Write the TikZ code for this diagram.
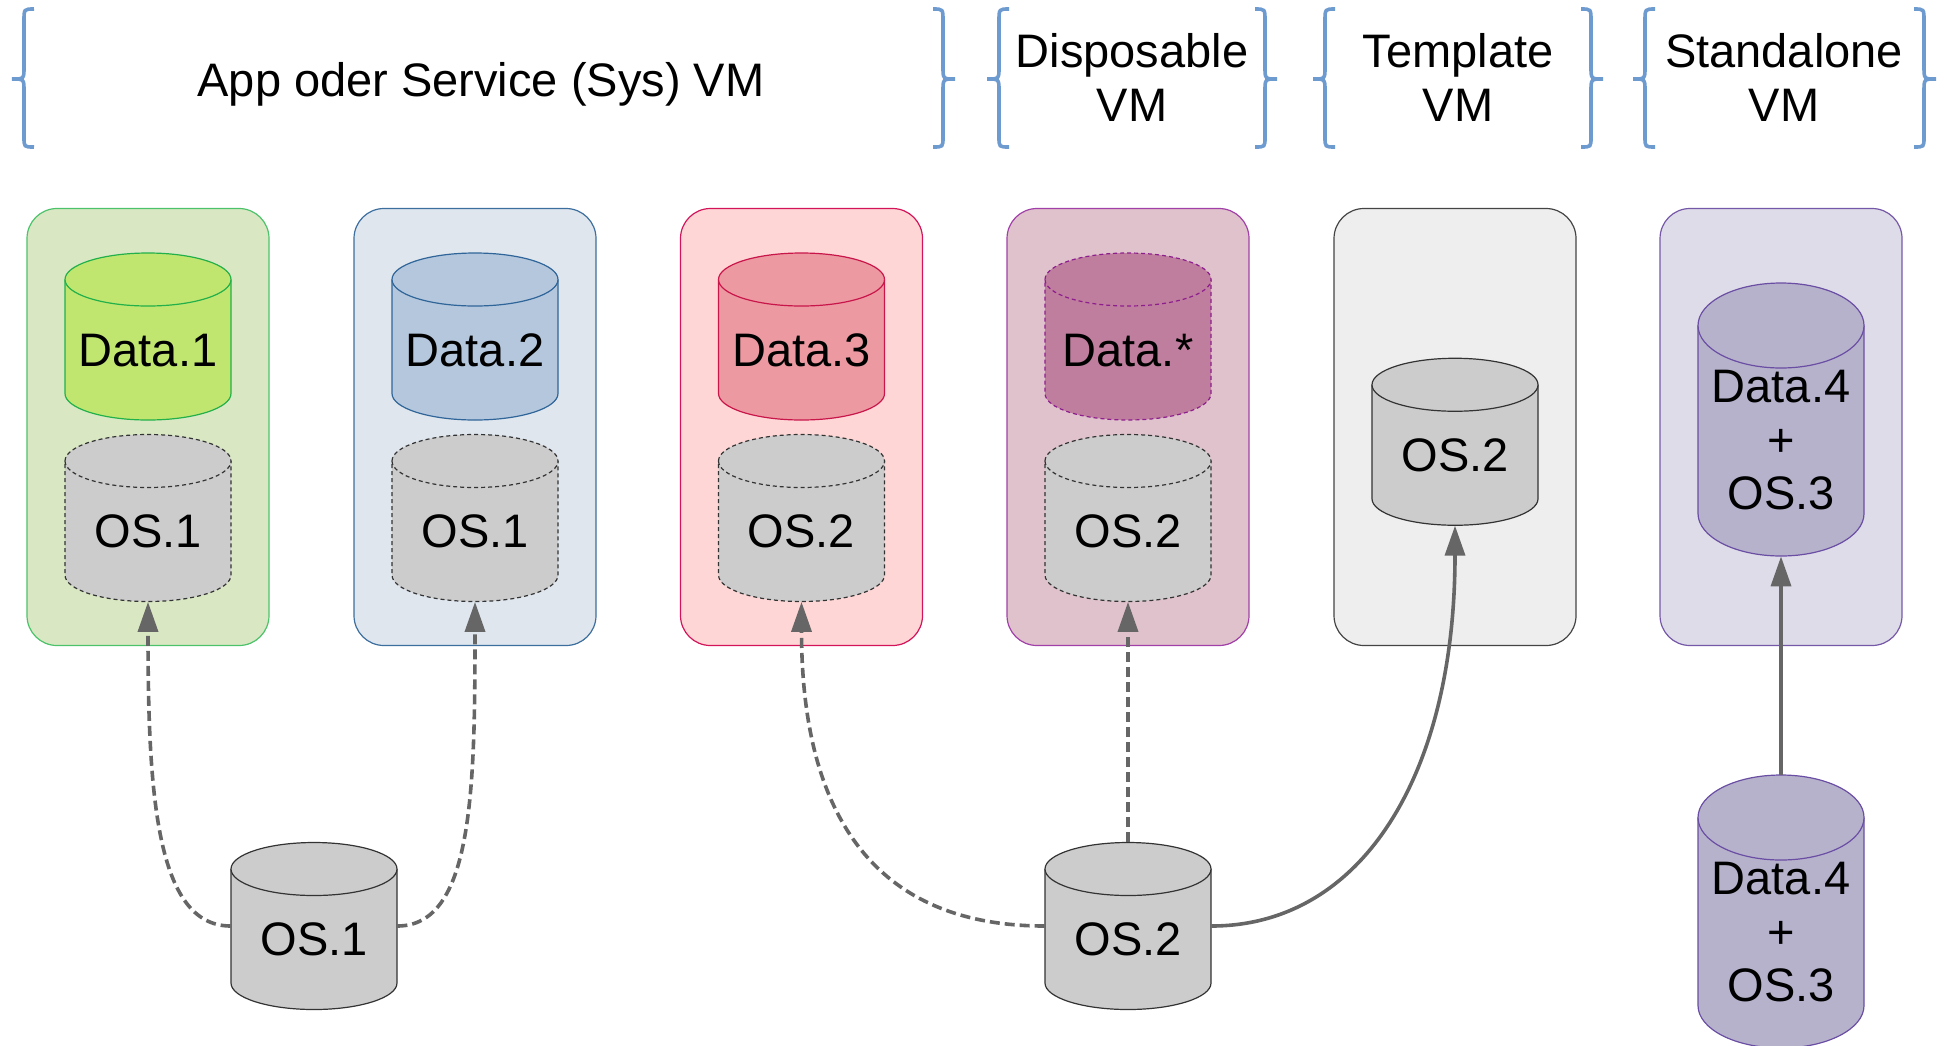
\documentclass[tikz,border=0pt]{standalone}
\usepackage{fontspec}
\setmainfont{Liberation Sans}
\usetikzlibrary{arrows.meta}

\definecolor{bracecol}{HTML}{6D9ACF}
\definecolor{linkgray}{HTML}{666666}
\definecolor{osfill}{HTML}{CCCCCC}
\definecolor{osline}{HTML}{333333}
\definecolor{vm1fill}{HTML}{D9E8C3}
\definecolor{vm1line}{HTML}{4CC26A}
\definecolor{vm2fill}{HTML}{DFE6EE}
\definecolor{vm2line}{HTML}{3C6E9E}
\definecolor{vm3fill}{HTML}{FFD6D6}
\definecolor{vm3line}{HTML}{D3145A}
\definecolor{vm4fill}{HTML}{E0C2CC}
\definecolor{vm4line}{HTML}{A140A8}
\definecolor{vm5fill}{HTML}{EEEEEE}
\definecolor{vm5line}{HTML}{444444}
\definecolor{vm6fill}{HTML}{DEDCE8}
\definecolor{vm6line}{HTML}{7658A8}
\definecolor{d1fill}{HTML}{C0E670}
\definecolor{d1line}{HTML}{22B04A}
\definecolor{d2fill}{HTML}{B4C7DD}
\definecolor{d2line}{HTML}{2F6598}
\definecolor{d3fill}{HTML}{EC99A2}
\definecolor{d3line}{HTML}{C8164A}
\definecolor{dxfill}{HTML}{C07E9E}
\definecolor{dxline}{HTML}{8C1E8E}
\definecolor{d4fill}{HTML}{B7B2CC}
\definecolor{d4line}{HTML}{6A4EA4}

% drum: name, x, y, height, cap radius, look, lift, text
\newcommand\drum[8]{%
  \filldraw[#6] (#2-83,#3+#4/2-#5)
    arc[start angle=180, end angle=0, x radius=83, y radius=#5]
    -- (#2+83,#3-#4/2+#5)
    arc[start angle=0, end angle=-180, x radius=83, y radius=#5] -- cycle;
  \draw[#6] (#2-83,#3+#4/2-#5)
    arc[start angle=180, end angle=360, x radius=83, y radius=#5];
  \node[drumtext, minimum height=#4*0.5pt] (#1) at (#2,#3) {\rule{0pt}{#7}#8};
}

\begin{document}
\begin{tikzpicture}[x=0.5pt, y=0.5pt,
    vmbox/.style={draw, rounded corners=15pt, line width=0.6pt,
      minimum width=121pt, minimum height=218.5pt},
    head/.style={font=\fontsize{23.5}{26.6}\selectfont, align=center, inner sep=0pt},
    brace/.style={draw=bracecol, line width=1.8pt},
    drumtext/.style={inner sep=0pt, minimum width=83pt, align=center,
      font=\fontsize{23.5}{26.6}\selectfont},
    osdisk/.style={fill=osfill, draw=osline, line width=0.6pt},
    rimdash/.style={dash pattern=on 2pt off 1.5pt},
    link/.style={draw=linkgray, line width=1.8pt, -{Triangle[length=15pt,width=10pt]}},
    linkdash/.style={dash pattern=on 5pt off 2.5pt}]

  \useasboundingbox (0,0) rectangle (1947,-1045);

  % curly brackets over the VM groups
  \foreach \l/\r in {24/943, 999/1265, 1325/1591, 1645/1924} {
    \draw[brace] (\l+10,-9) .. controls (\l,-9) .. (\l,-21) -- (\l,-67)
      .. controls (\l,-79) .. (\l-12,-79) .. controls (\l,-79) .. (\l,-91)
      -- (\l,-137) .. controls (\l,-147) .. (\l+10,-147);
    \draw[brace] (\r-10,-9) .. controls (\r,-9) .. (\r,-21) -- (\r,-67)
      .. controls (\r,-79) .. (\r+12,-79) .. controls (\r,-79) .. (\r,-91)
      -- (\r,-137) .. controls (\r,-147) .. (\r-10,-147);
  }
  \node[head] (apphead) at (481,-84.5) {App oder Service (Sys) VM};
  \node[head] (disphead) at (1132,-77.4) {Disposable\\VM};
  \node[head] (tplhead) at (1458,-77.4) {Template\\VM};
  \node[head] (stdhead) at (1784,-77.4) {Standalone\\VM};

  % VM boxes
  \foreach \n/\x in {1/148, 2/475, 3/801.5, 4/1128, 5/1455, 6/1781}
    \node[vmbox, fill=vm\n fill, draw=vm\n line] (vm\n) at (\x,-427) {};

  % disks inside the VMs
  \drum{app1data}{148}{-336.5}{167}{26.5}{fill=d1fill, draw=d1line, line width=0.6pt}{29.8pt}{Data.1}
  \drum{app1os}{148}{-518}{167}{26.5}{osdisk, rimdash}{29.8pt}{OS.1}
  \drum{app2data}{475}{-336.5}{167}{26.5}{fill=d2fill, draw=d2line, line width=0.6pt}{29.8pt}{Data.2}
  \drum{app2os}{475}{-518}{167}{26.5}{osdisk, rimdash}{29.8pt}{OS.1}
  \drum{sysdata}{801.5}{-336.5}{167}{26.5}{fill=d3fill, draw=d3line, line width=0.6pt}{29.8pt}{Data.3}
  \drum{sysos}{801.5}{-518}{167}{26.5}{osdisk, rimdash}{29.8pt}{OS.2}
  \drum{dispdata}{1128}{-336.5}{167}{26.5}{fill=dxfill, draw=dxline, line width=0.6pt, rimdash}{29.8pt}{Data.*}
  \drum{dispos}{1128}{-518}{167}{26.5}{osdisk, rimdash}{29.8pt}{OS.2}
  \drum{tplos}{1455}{-441.75}{167}{26.5}{osdisk}{29.8pt}{OS.2}
  \drum{stddisk}{1781}{-419.5}{273}{42.5}{fill=d4fill, draw=d4line, line width=0.6pt}{36.8pt}{Data.4\\+\\OS.3}

  % base images
  \drum{os1base}{314}{-926}{167}{26.5}{osdisk}{29.8pt}{OS.1}
  \drum{os2base}{1128}{-926}{167}{26.5}{osdisk}{29.8pt}{OS.2}
  \drum{d4base}{1781}{-911.5}{273}{42.5}{fill=d4fill, draw=d4line, line width=0.6pt}{36.8pt}{Data.4\\+\\OS.3}

  % links
  \draw[link, linkdash] (os1base.west) .. controls +(-75,0) and +(0,-190) .. (app1os.south);
  \draw[link, linkdash] (os1base.east) .. controls +(75,0) and +(0,-190) .. (app2os.south);
  \draw[link, linkdash] (os2base.west) .. controls +(-180,0) and +(0,-200) .. (sysos.south);
  \draw[link, linkdash] (os2base.north) -- (dispos.south);
  \draw[link] (os2base.east) .. controls +(150,0) and +(0,-250) .. (tplos.south);
  \draw[link] (d4base.north) -- (stddisk.south);
\end{tikzpicture}
\end{document}
